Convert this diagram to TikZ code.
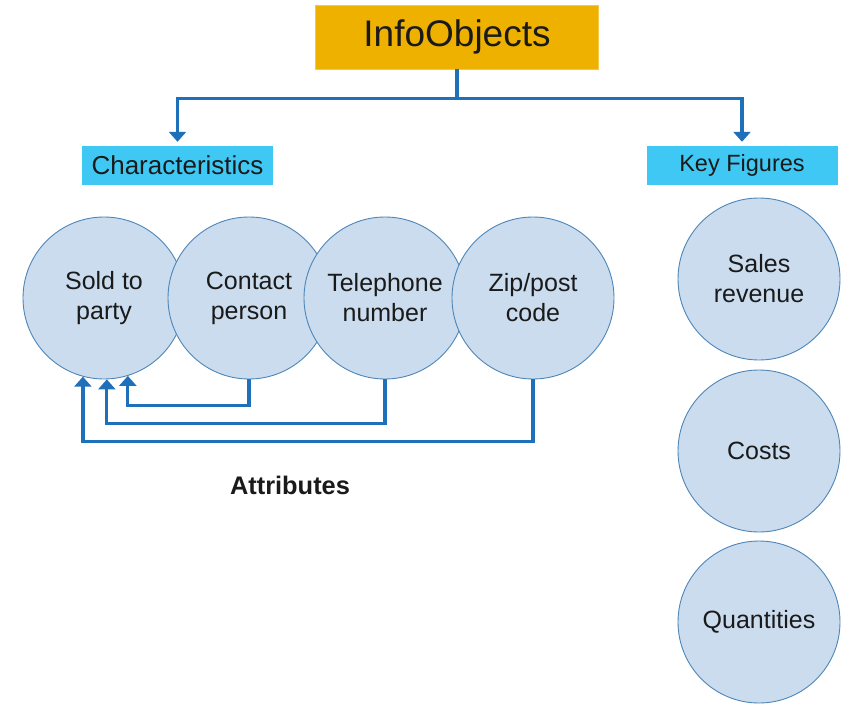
\documentclass[tikz,border=0pt]{standalone}
\usepackage{fontspec}
\setmainfont{Liberation Sans}
\usetikzlibrary{arrows.meta}
\definecolor{infogold}{HTML}{EFB100}
\definecolor{headcyan}{HTML}{40C8F4}
\definecolor{bubble}{HTML}{CADCEE}
\definecolor{bubbleline}{HTML}{4F86B8}
\definecolor{linkblue}{HTML}{1E70BA}
\definecolor{ink}{HTML}{1A1A1A}

\begin{document}
\begin{tikzpicture}[x=1pt,y=-1pt,
  every node/.style={text=ink,inner sep=0pt},
  headbox/.style={fill=headcyan,minimum width=191pt,minimum height=39pt},
  bubblenode/.style={circle,fill=bubble,draw=bubbleline,line width=.9pt,
    minimum size=162pt,align=center,font=\fontsize{25}{30}\selectfont},
  link/.style={draw=linkblue,line width=3.2pt},
  tip/.style={-{Triangle[width=17pt,length=10pt]}}]
  \useasboundingbox (0,0) rectangle (864,706);
  % top of the tree
  \node[fill=infogold,draw=infogold!70!white,minimum width=283pt,minimum height=64pt,
    font=\fontsize{37}{40}\selectfont] (title) at (457,37) {InfoObjects};
  \node[headbox,font=\fontsize{26}{30}\selectfont] (chars) at (177.5,165.5) {Characteristics};
  \node[headbox,font=\fontsize{23.5}{28}\selectfont] (keyfig) at (742,165.5) {Key Figures};
  \draw[link] (title.south) -- ++(0,29) coordinate (fork);
  \draw[link,tip,shorten >=4pt] (fork) -| (chars.north);
  \draw[link,tip,shorten >=4pt] (fork) -| (keyfig.north);
  % characteristics
  \node[bubblenode] (sold) at (104,298) {Sold to\\party};
  \node[bubblenode] (contact) at (249,298) {Contact\\person};
  \node[bubblenode] (phone) at (385,298) {Telephone\\number};
  \node[bubblenode] (zip) at (533,298) {Zip/post\\code};
  \draw[link,tip] (contact.south) -- ++(0,26) -| (sold.-73);
  \draw[link,tip] (phone.south) -- ++(0,44) -| (sold.-88);
  \draw[link,tip] (zip.south) -- ++(0,62) -| (sold.-105);
  \node[font=\bfseries\fontsize{25.4}{30}\selectfont] (attr) at (290,485) {Attributes};
  % key figures
  \node[bubblenode] (sales) at (759,279) {Sales\\revenue};
  \node[bubblenode] (costs) at (759,451) {Costs};
  \node[bubblenode] (qty) at (759,622) {Quantities};
\end{tikzpicture}
\end{document}
